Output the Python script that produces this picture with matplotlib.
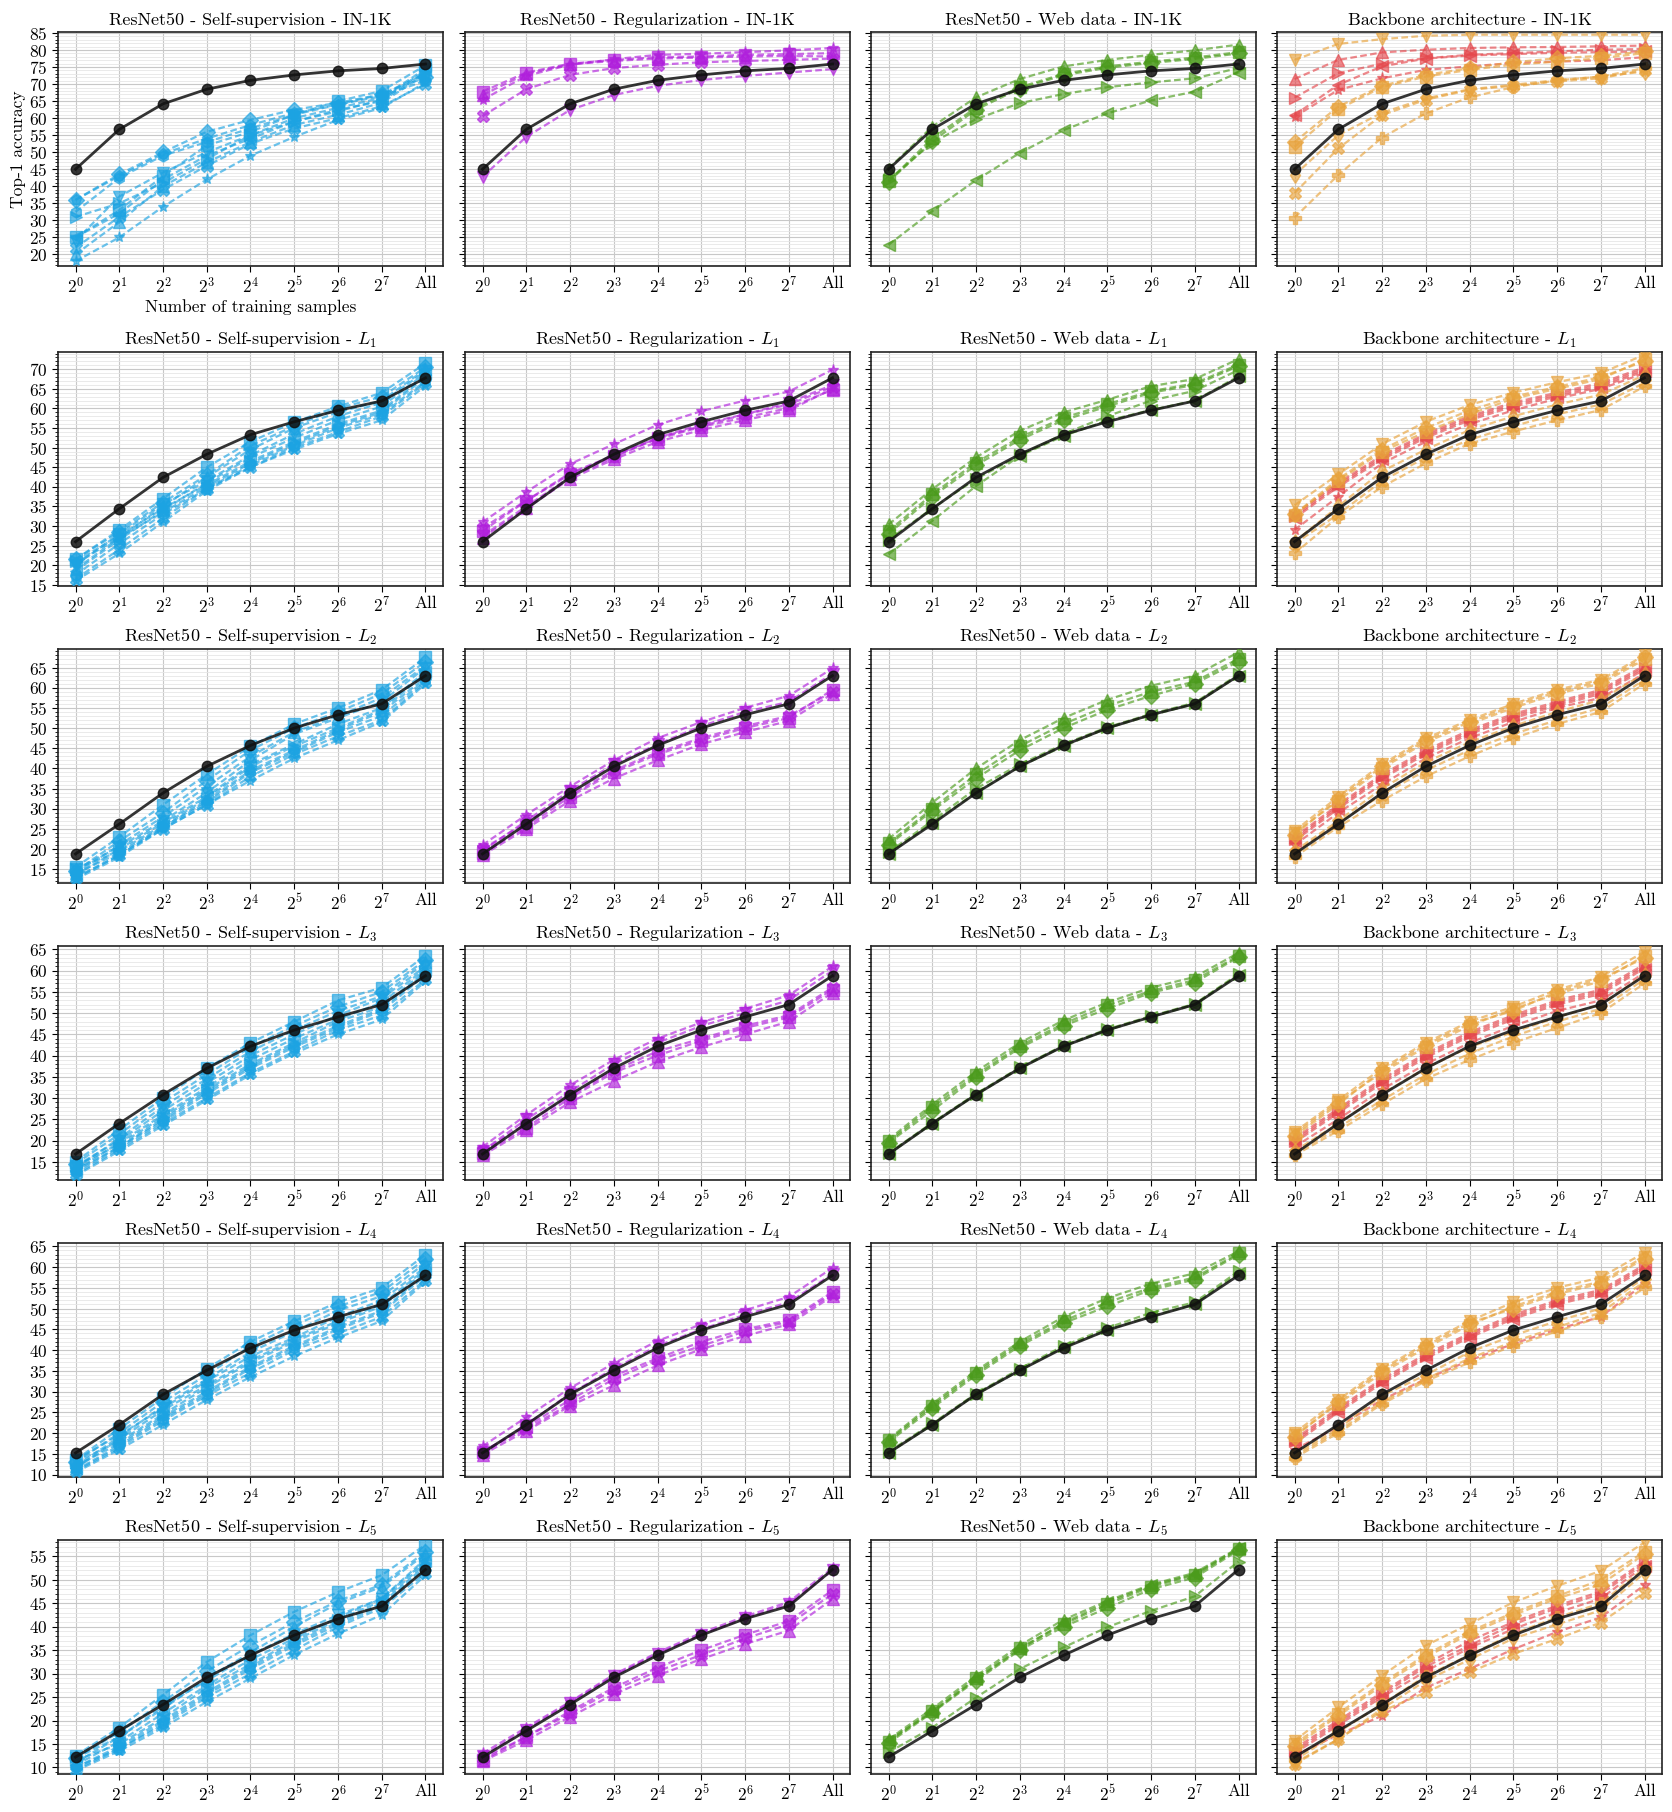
import numpy as np
import matplotlib.pyplot as plt
from matplotlib.ticker import MultipleLocator, FixedLocator

plt.rcParams['font.family'] = 'serif'
plt.rcParams['font.serif'] = ['cmr10']
plt.rcParams['mathtext.fontset'] = 'cm'
plt.rcParams['axes.formatter.use_mathtext'] = True
plt.rcParams['axes.unicode_minus'] = False

# ---------------- data ----------------
xlabels = [r'$2^{%d}$' % i for i in range(8)] + ['All']
levels = ['IN-1K', r'$L_1$', r'$L_2$', r'$L_3$', r'$L_4$', r'$L_5$']
groups = ['ResNet50 - Self-supervision', 'ResNet50 - Regularization',
          'ResNet50 - Web data', 'Backbone architecture']

# supervised ResNet50 (black line), one per row
base_in1k = [45, 56.7, 64.2, 68.5, 71.1, 72.7, 73.9, 74.6, 75.9]
base_l1 = [26, 34.4, 42.4, 48.3, 53.3, 56.6, 59.5, 61.9, 67.8]
base_l2 = [18.8, 26.2, 33.9, 40.5, 45.7, 50, 53.3, 56, 63]
base_l3 = [16.8, 24, 30.8, 37, 42.2, 46, 49.1, 52, 58.8]
base_l4 = [15.2, 22, 29.3, 35.1, 40.5, 44.8, 48, 51, 58]
base_l5 = [12.2, 17.8, 23.4, 29.2, 33.9, 38.2, 41.7, 44.4, 52.2]

ssl_markers = ['D', 'p', 'h', 's', 'v', '<', '>', '^', 'X', '*']
ssl_in1k = [
    [36, 43.5, 50, 56, 59.5, 62.5, 64.5, 67, 72],
    [36, 43, 49.5, 54, 58, 61.5, 64, 67, 73],
    [32.5, 42.5, 49, 53, 57, 61, 64, 66.5, 71],
    [25, 33, 43, 52, 56, 61, 65, 68, 75.5],
    [24, 37, 44, 50, 55, 60, 63, 66, 74.5],
    [25, 32, 42, 49, 54, 59, 62, 65.5, 74],
    [31, 35, 41, 48, 55, 59, 62.5, 65, 73.5],
    [20, 29.5, 40, 47, 53, 58, 61, 64.5, 73],
    [22, 31, 39, 46, 52.5, 57, 60, 63.5, 70],
    [18, 25, 34, 42, 49, 54.5, 59.5, 63, 70.5],
]
ssl_l1 = [
    [21.5, 28.5, 36, 43, 50.5, 55.5, 60, 63, 70.5],
    [20.5, 27, 33.5, 40, 46, 51, 55.5, 59, 68],
    [17.5, 25.5, 33, 39.5, 45.5, 50.5, 55, 58.5, 67],
    [21.5, 29, 37, 45, 51.5, 56.5, 60.5, 64, 71.5],
    [20, 28, 35.5, 41.5, 48, 53.5, 58, 61.5, 69.5],
    [18.5, 26.5, 34, 41, 47.5, 52.5, 57, 60.5, 69],
    [21, 27.5, 34.5, 40.5, 46.5, 51.5, 56, 59.5, 68.5],
    [19, 27, 35, 42.5, 49.5, 55, 59, 62, 70],
    [16.5, 24, 32, 39.5, 45, 50, 54, 58, 66.5],
    [16, 23, 31, 39, 45, 49.5, 53.5, 57, 65.8],
]
ssl_l2 = [
    [14.5, 22, 29, 37, 44.5, 50, 54, 58.5, 66.5],
    [14, 19, 25.5, 32, 39.5, 44.5, 49.5, 54, 62.5],
    [13, 18.5, 25.5, 31.5, 39, 44, 49, 53, 62],
    [15.5, 23, 31, 38.5, 45.5, 51, 55, 59.5, 67.5],
    [15, 20.5, 27, 34, 42, 48.5, 52.5, 56.5, 65],
    [13.5, 20, 26.5, 33, 41, 46, 51, 55, 64],
    [15, 19.5, 26, 32.5, 40.5, 45.5, 50, 54.5, 63.5],
    [14, 21, 28, 35.5, 43, 49, 53, 57.5, 65.5],
    [12.8, 18.5, 25, 31, 38, 43.5, 48, 52, 61.5],
    [12.5, 18, 25, 31, 37, 42.5, 47, 51.5, 61],
]
ssl_l3 = [
    [14.5, 21.5, 29, 35.5, 42, 47, 51.5, 55, 62.5],
    [13, 18.5, 25, 31.5, 37.5, 42.5, 47, 51, 59.5],
    [12.5, 18.5, 24.5, 31, 37, 42, 46.5, 50.5, 59],
    [15, 22.5, 30, 37, 43, 48, 53, 56, 63.5],
    [14, 20, 27, 33.5, 40, 45, 49.5, 53.5, 61],
    [13, 19.5, 26, 32.5, 39, 44, 48.5, 52.5, 60.5],
    [14, 19, 25.5, 32, 38, 43, 48, 51.5, 60],
    [13.5, 20.5, 28, 34.5, 41, 46, 50.5, 54, 62],
    [12, 18, 24, 30, 36, 41, 46, 49.5, 58],
    [11.7, 17.5, 23.5, 29.5, 35.5, 40.5, 45, 48.5, 57.5],
]
ssl_l4 = [
    [13, 20, 27.5, 34, 41, 46, 50.5, 54, 62],
    [12, 17.5, 24, 30, 36, 41, 45.5, 49.5, 58.5],
    [11, 17, 23.5, 29.5, 35.5, 40.5, 45, 49, 58],
    [13.5, 21, 28.5, 35.5, 42, 47, 51.5, 55, 63],
    [13.5, 19.5, 26, 32.5, 38.5, 43, 48, 52, 60],
    [11.5, 18.5, 25.5, 31.5, 37.5, 42.5, 47, 51, 59.5],
    [13, 18, 24.5, 31, 37, 42, 46.5, 50.5, 59],
    [12, 19, 26.5, 33, 39.5, 44.5, 49.5, 53, 61],
    [10.8, 16.5, 23, 29, 34.5, 40, 44, 48, 57],
    [10.5, 16, 22, 28, 33.5, 38.5, 43, 47, 56.5],
]
ssl_l5 = [
    [12, 17.5, 24, 30.5, 36, 41, 45.5, 49, 56],
    [10, 14.5, 20, 26, 31.5, 36.5, 41, 45, 53],
    [10, 14, 19.5, 25.5, 31, 36, 40.5, 44.5, 52.5],
    [12.5, 18.5, 25.5, 32.5, 38.2, 43.2, 47.4, 51, 57.5],
    [12, 16.5, 23, 28.5, 34, 38.5, 42.5, 46, 54.5],
    [10.5, 15.5, 21.5, 27.5, 33, 37.5, 42, 46, 54],
    [11.5, 15, 20.5, 27, 32, 37, 41.5, 45.5, 53.5],
    [11, 16.5, 22.5, 29, 34.5, 40, 45, 48.5, 55.5],
    [9.5, 14, 19, 25, 30, 35, 40, 44, 51.5],
    [9.3, 13.5, 18.5, 24, 29, 34, 38.5, 42.5, 51],
]

reg_markers = ['s', '*', 'X', 'v', '^']
reg_in1k = [
    [67.8, 73.4, 76, 77.1, 77.9, 78.1, 78.6, 78.8, 79.1],
    [65.4, 72.4, 75.7, 77.3, 78.6, 78.9, 79.4, 79.9, 80.6],
    [60.6, 68.5, 72.7, 74.7, 75.7, 76.4, 76.8, 77.1, 77.5],
    [42.8, 54.5, 62.4, 66.8, 69.5, 71.2, 72.4, 73.4, 74.4],
    [66.8, 73, 75.8, 76.8, 77.5, 77.8, 78.1, 78.3, 78.1],
]
reg_l1 = [
    [28.7, 36.4, 43.2, 47.9, 52.2, 55.3, 57.7, 60.1, 64.8],
    [31, 38.7, 45.8, 50.9, 55.8, 59.3, 62, 64.3, 69.9],
    [29.5, 36.5, 43.5, 48, 52.5, 55.5, 58.5, 61, 65.5],
    [27.5, 35, 42.5, 47.5, 52.5, 56, 58.5, 61.5, 66],
    [27, 34.5, 42, 47, 51.5, 54.5, 57, 59.5, 65],
]
reg_l2 = [
    [19, 25.5, 33, 39, 43.5, 47, 50, 52.5, 59.5],
    [21, 28.5, 35.5, 42, 47.5, 51.5, 55, 58, 64.8],
    [20, 26.5, 33.5, 39.5, 44, 47.5, 50.5, 53, 59],
    [19.5, 27, 34.5, 41, 46, 50.5, 54, 56.5, 63.5],
    [18.5, 25, 32, 37.5, 42, 46, 49, 51.8, 58.5],
]
reg_l3 = [
    [17, 23, 30, 36, 40, 43.5, 46.5, 49, 55.5],
    [18.5, 26, 33, 39, 44, 47.8, 51, 54.2, 61],
    [17.5, 24, 30.5, 36.5, 41, 44, 47, 49.5, 56],
    [17.5, 25, 31.5, 38, 43, 47, 50, 53, 60],
    [16.5, 22.5, 29, 34, 38.5, 42, 45, 48, 54.8],
]
reg_l4 = [
    [15.5, 21.5, 28, 33.8, 38, 42, 45, 47.2, 54],
    [16.8, 23.8, 30.8, 36.8, 42.2, 46.2, 49.6, 52.8, 59.8],
    [15.5, 21, 27, 33, 37.5, 41, 44.5, 46.8, 53.5],
    [15, 22, 29.5, 35.5, 41, 45, 48.5, 51.5, 58.3],
    [14.8, 20.5, 26.5, 31.5, 36.3, 40.2, 43.4, 46.2, 53],
]
reg_l5 = [
    [11.5, 16.5, 22, 27, 31.3, 35, 38.3, 41.2, 47.8],
    [13, 18.5, 24, 29.8, 34.5, 38.7, 42.2, 45.3, 52.5],
    [12, 16.5, 21.5, 26.5, 30.5, 34, 37.5, 40.5, 47],
    [12.5, 18, 23.8, 29.5, 34.2, 38.3, 41.8, 44.8, 52],
    [11.3, 15.8, 20.8, 25.6, 29.6, 33.1, 36.3, 39.2, 45.9],
]

web_markers = ['^', 's', 'D', '>', '<']
web_in1k = [
    [45.2, 57.5, 66.1, 71.5, 75.2, 77.1, 78.6, 79.9, 81.6],
    [41.5, 54.1, 63.1, 69.1, 73, 75.2, 76.6, 77.8, 79.4],
    [41.3, 53.2, 62.5, 68.7, 72.6, 74.8, 76.2, 77.4, 79],
    [41.8, 52.8, 59.7, 64.4, 67.1, 69.1, 70.5, 71.7, 74.7],
    [22.8, 32.7, 41.8, 49.8, 56.5, 61.4, 65.2, 67.8, 73.4],
]
web_l1 = [
    [30.4, 39.4, 47.5, 54.3, 59, 62.2, 65.7, 67.5, 72.6],
    [28.7, 38.1, 46.2, 52.6, 57.6, 61.1, 64.4, 66.4, 71.2],
    [28, 37.5, 45.5, 52, 57, 60.5, 64, 66, 70.8],
    [26.5, 34.5, 42, 48, 53.5, 58, 62, 64.5, 69.8],
    [22.8, 31.3, 40.2, 47.9, 53, 56.9, 59.6, 62, 68.2],
]
web_l2 = [
    [22.5, 31.5, 40, 47, 52.5, 57, 60.5, 63, 68.8],
    [21.5, 30, 38.5, 45.5, 51, 55.5, 59, 61.5, 67.2],
    [21, 29.5, 37.5, 44.5, 50, 54.5, 58, 61, 66.5],
    [19.2, 27, 35, 41, 46, 50.2, 53.5, 56.3, 63.3],
    [18.8, 26.5, 34, 40.5, 45.5, 50, 53.2, 56, 63],
]
web_l3 = [
    [20.2, 28.5, 36.2, 43, 48.3, 52.5, 56, 58.5, 64.2],
    [19.8, 27.8, 35.5, 42.3, 47.5, 51.8, 55.2, 57.8, 63.5],
    [19.5, 27, 35, 41.8, 47, 51, 54.8, 57.2, 63.2],
    [17, 24.2, 31, 37.2, 42.4, 46.2, 49.3, 52.2, 59.2],
    [16.8, 24, 30.8, 37, 42.2, 46, 49.1, 52, 59],
]
web_l4 = [
    [18.5, 27, 35, 42, 48, 52.5, 56, 58.5, 63.8],
    [18.2, 26.5, 34.5, 41.5, 47, 51.5, 55, 57.5, 63.3],
    [17.8, 26, 34, 41, 46.5, 50.5, 54.5, 57, 63],
    [15.5, 22.3, 29.5, 35.5, 41, 45.3, 49, 51.5, 59],
    [15.2, 22, 29.3, 35.1, 40.7, 44.8, 48.2, 51, 58.5],
]
web_l5 = [
    [16, 22.5, 29.5, 36, 41.5, 45.5, 49, 51.5, 56.8],
    [15.5, 22, 29, 35.5, 40.5, 44.8, 48.5, 51, 56.5],
    [15.2, 21.7, 28.5, 35, 40, 44, 48, 50.5, 56.3],
    [13.2, 18.5, 24.9, 31, 35.6, 39.9, 43.4, 46.5, 53.9],
    [15.8, 21.8, 28.8, 35.2, 40.8, 45.2, 48.8, 51.2, 56.7],
]

# first four backbones in red, the rest in orange
bb_markers = ['^', '>', '<', '*', 'v', 's', 'D', 'd', 'X', 'P']
bb_in1k = [
    [71.5, 77.1, 79.3, 80.1, 80.6, 80.8, 80.9, 81.1, 81.3],
    [66, 73.2, 76, 77.6, 78.6, 79.1, 79.6, 80.1, 80.3],
    [60.9, 69.8, 75.2, 77.5, 78.4, 78.8, 79.2, 79.4, 79.6],
    [60.4, 68.3, 71.7, 74.2, 75.2, 76.2, 76.6, 77, 77.9],
    [77.1, 81.8, 83.2, 84.2, 84.5, 84.5, 84.5, 84.5, 84.5],
    [51.6, 62.6, 69.1, 72.2, 74.2, 75.7, 76.6, 77.6, 79.1],
    [53, 63.4, 69.5, 72.7, 74.7, 76.4, 77.6, 78.3, 79.6],
    [43.3, 55, 61.6, 65.8, 68.5, 69.8, 71.2, 72.2, 73.7],
    [38, 51.1, 60.9, 65.4, 68.3, 69.5, 70.8, 71.7, 74.2],
    [30.8, 43.3, 54.3, 61.4, 66.1, 69.1, 71.1, 72.2, 74.7],
]
bb_l1 = [
    [33, 41, 48, 53.5, 58, 61.5, 64, 66.5, 70.5],
    [32.5, 40.5, 47.5, 53, 57.5, 61, 63.5, 66, 70],
    [32, 40, 47, 52.5, 57, 60.5, 63, 65.5, 69.5],
    [29, 37.5, 46, 51.5, 56, 59.5, 62.5, 65, 69],
    [35.3, 43.2, 50.9, 56.6, 60.9, 64, 66.7, 69, 73.7],
    [32.8, 41.5, 49, 54, 58.5, 62.5, 65, 67.5, 72.5],
    [33, 42, 49.5, 55, 59.5, 63, 65.5, 68, 72],
    [26, 35, 44, 49.5, 54.5, 58, 61, 63.5, 68.5],
    [25.5, 33, 41.5, 47.5, 52, 55.5, 58.5, 61, 66.5],
    [23, 32.3, 40, 46, 51, 54.1, 57, 59.6, 65.6],
]
bb_l2 = [
    [23, 31, 38.5, 44.5, 49.5, 53.5, 56.5, 59.5, 65.5],
    [22.5, 30.5, 38, 44, 49, 53, 56, 59, 65],
    [22, 30, 37.5, 43.5, 48.5, 52.5, 55.5, 58.5, 64.5],
    [21, 29, 36, 42.5, 47.5, 51.5, 55, 57.5, 63.5],
    [24.5, 33, 41, 47.5, 52, 56, 59.5, 62, 68],
    [24, 32, 40, 46.5, 51, 55, 58.5, 61, 67],
    [23.5, 32.5, 40.5, 47, 51.5, 55.5, 59, 61.5, 67.5],
    [19.5, 27, 35, 41.5, 46.5, 50.5, 54, 57, 63.5],
    [19, 26.5, 33.5, 39.5, 44.5, 48.5, 52, 55, 62],
    [18, 25.5, 32, 38, 43, 47.5, 51, 54, 61],
]
bb_l3 = [
    [20.5, 27.5, 34.5, 40.5, 45.5, 49.5, 53, 55.5, 61.5],
    [20, 27, 34, 40, 45, 49, 52.5, 55, 61],
    [19.5, 26.5, 33.5, 39.5, 44.5, 48.5, 52, 54.5, 60.5],
    [18.5, 25, 32, 38, 43, 47, 50.5, 53, 59.5],
    [22, 29.5, 37, 43, 48, 51.5, 55.5, 58.5, 64.5],
    [21.5, 29, 36, 42, 47, 51, 54.5, 57.5, 63.5],
    [21, 28.5, 36.5, 42.5, 47.5, 50.5, 55, 58, 63],
    [17.5, 24, 31, 37, 42, 45.5, 49, 52, 59],
    [17, 23, 29.5, 35.5, 40.5, 44.5, 48, 51, 58],
    [16.5, 22.3, 28.5, 34.5, 39, 43, 46.5, 50, 57],
]
bb_l4 = [
    [18.5, 26, 33, 39, 44, 48.5, 52, 54.5, 60.5],
    [18, 25.5, 32.5, 38.5, 43.5, 48, 51.5, 54, 60],
    [17.5, 25, 32, 38, 43, 47.5, 51, 53.5, 59.5],
    [16, 21.5, 28, 33, 37.5, 41.5, 45, 48, 56],
    [20, 28, 35.5, 41.5, 47, 51.5, 55, 57.5, 63.5],
    [19.5, 27, 34.5, 40.5, 46, 50.5, 54, 56.5, 62.5],
    [19, 27.5, 35, 41, 46.5, 50, 53.5, 56, 62],
    [15, 21, 29, 34, 39.5, 43.5, 47, 50, 57.5],
    [14.5, 20.5, 27.5, 33, 38, 42, 45.5, 49, 56.5],
    [14, 20, 27, 32.5, 37, 41, 44.5, 48, 55],
]
bb_l5 = [
    [14, 20, 26, 32, 37, 41, 44.5, 47.5, 54],
    [13.5, 19.5, 25.5, 31.5, 36, 40.5, 44, 47, 53.5],
    [13, 19, 25, 30.5, 35.5, 39.5, 43, 46, 53],
    [12.5, 17, 21, 27, 31, 35.2, 38.9, 42, 48.9],
    [15.7, 22.8, 29.6, 36, 40.6, 45.2, 48.7, 51.9, 58],
    [15, 21.5, 28, 34, 39, 43, 46.5, 50, 56],
    [14.5, 21, 27.5, 33.5, 38.5, 42.5, 46, 49, 55.5],
    [11, 16, 22.5, 28.5, 33, 37.5, 40.5, 43.5, 51.5],
    [10.7, 16, 22, 26, 30.3, 34.2, 37.4, 40.9, 47.3],
    [11.5, 17.5, 23.5, 29.5, 34, 38.5, 42, 45, 52.5],
]

ylims = [(16.6, 85.3), (14.7, 74.4), (11.6, 69.6), (10.7, 65.8), (9.4, 65.8), (8.6, 58.5)]
yticks = [range(20, 86, 5), range(15, 71, 5), range(15, 66, 5),
          range(15, 66, 5), range(10, 66, 5), range(10, 56, 5)]

bases = [base_in1k, base_l1, base_l2, base_l3, base_l4, base_l5]
ssl = [ssl_in1k, ssl_l1, ssl_l2, ssl_l3, ssl_l4, ssl_l5]
reg = [reg_in1k, reg_l1, reg_l2, reg_l3, reg_l4, reg_l5]
web = [web_in1k, web_l1, web_l2, web_l3, web_l4, web_l5]
bb = [bb_in1k, bb_l1, bb_l2, bb_l3, bb_l4, bb_l5]

blue = '#1ca3e2'
purple = '#b01fdc'
green = '#4b9b1c'
red = '#e5484d'
orange = '#e8a33c'

# ---------------- layout ----------------
W, H = 1672, 1812
fig = plt.figure(figsize=(W / 100, H / 100), dpi=100)
col_left = [58, 465, 871, 1277]
row_top = [32, 352, 649, 946, 1243, 1540]
aw, ah = 385, 234

x = np.arange(9)
fs = 12.5

for r in range(6):
    panels = [
        (ssl[r], ssl_markers, [blue] * len(ssl_markers)),
        (reg[r], reg_markers, [purple] * len(reg_markers)),
        (web[r], web_markers, [green] * len(web_markers)),
        (bb[r], bb_markers, [red] * 4 + [orange] * 6),
    ]
    for c in range(4):
        ax = fig.add_axes([col_left[c] / W, 1 - (row_top[r] + ah) / H, aw / W, ah / H])
        series, marks, cols = panels[c]
        for vals, m, col in zip(series, marks, cols):
            ax.plot(x, vals, ls=(0, (3, 1.5)), lw=1.6, marker=m, ms=8, color=col,
                    alpha=0.65, zorder=3)
        ax.plot(x, bases[r], ls='-', lw=2, marker='o', ms=7.5, color='#111111',
                alpha=0.85, zorder=4)

        ax.set_xlim(-0.4, 8.4)
        ax.set_ylim(*ylims[r])
        ax.set_xticks(x)
        ax.set_xticklabels(xlabels, fontsize=fs + 1)
        ax.yaxis.set_major_locator(FixedLocator(list(yticks[r])))
        ax.yaxis.set_minor_locator(MultipleLocator(1))
        ax.grid(True, which='major', color='#c8c8c8', lw=0.8)
        ax.grid(True, which='minor', axis='y', color='#e6e6e6', lw=0.6)
        ax.set_axisbelow(True)
        ax.tick_params(axis='both', which='major', labelsize=fs, length=4, width=0.8)
        ax.tick_params(axis='y', which='minor', length=2, width=0.6)
        ax.tick_params(axis='x', pad=3)
        for s in ax.spines.values():
            s.set_color('#222222')
            s.set_linewidth(1.2)
        if c > 0:
            ax.tick_params(axis='y', labelleft=False)
        ax.set_title(groups[c] + ' - ' + levels[r], fontsize=fs + 0.5, pad=5)
        if r == 0 and c == 0:
            ax.set_ylabel('Top-1 accuracy', fontsize=fs, labelpad=2)
            ax.set_xlabel('Number of training samples', fontsize=fs, labelpad=2)

fig.savefig('out.png', dpi=100)
